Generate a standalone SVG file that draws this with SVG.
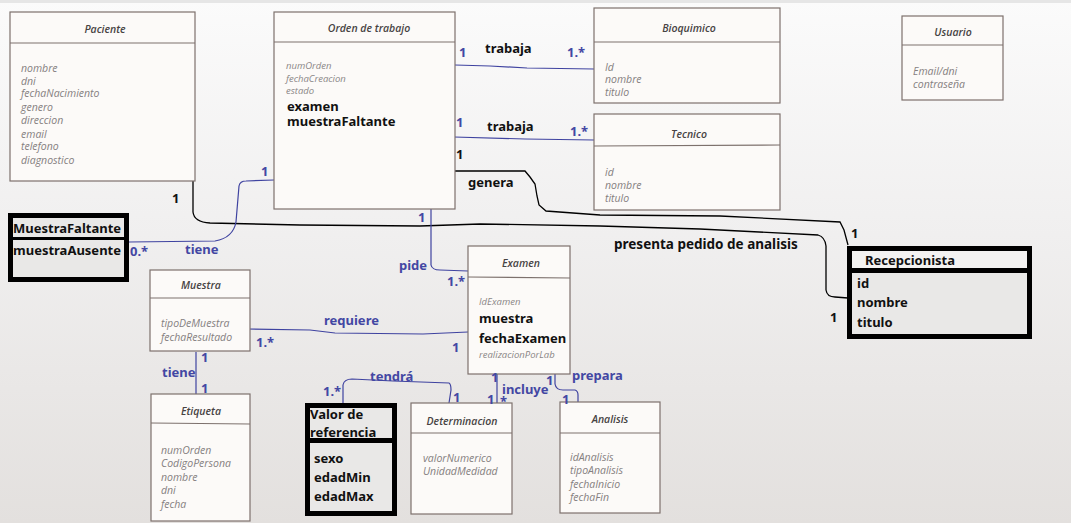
<svg xmlns="http://www.w3.org/2000/svg" width="1071" height="523" viewBox="0 0 1071 523">
<defs>
<linearGradient id="bg" x1="0" y1="0" x2="0" y2="1">
<stop offset="0" stop-color="#fbfbfb"/>
<stop offset="0.45" stop-color="#f0efef"/>
<stop offset="1" stop-color="#e3e0de"/>
</linearGradient>
<style>
.box{fill:#fcfaf8;stroke:#7d716d;stroke-width:1.2}
.sep{stroke:#7d716d;stroke-width:1.2;fill:none}
.ttl{font-family:"Open Sans","Noto Sans",sans-serif;font-style:italic;font-weight:600;font-size:10.5px;fill:#474343;text-anchor:middle}
.att{font-family:"Open Sans","Noto Sans",sans-serif;font-style:italic;font-size:10.5px;fill:#858080}
.att2{font-family:"Open Sans","Noto Sans",sans-serif;font-style:italic;font-size:9.5px;fill:#8a8686}
.bk{font-family:"Noto Sans","DejaVu Sans",sans-serif;font-weight:bold;font-size:13px;fill:#111}
.bl{font-family:"Noto Sans","DejaVu Sans",sans-serif;font-weight:bold;font-size:13px;fill:#4347a3}
.thick{fill:#e9e8e7;stroke:#000;stroke-width:5}
.cb{fill:none;stroke:#3f43a0;stroke-width:1.2}
.ck{fill:none;stroke:#000;stroke-width:1.3}
</style>
</defs>
<rect x="0" y="0" width="1071" height="523" fill="url(#bg)"/>
<rect x="0" y="0" width="1071" height="3" fill="#e6e6e6"/>

<g id="connectors">
<path class="ck" d="M193,181 L193,212 Q194,222 210,223 L300,225 L420,226 L480,224 L600,226 L700,229 L818,235 Q825,237 826,246 L826,290 Q827,297 835,297 L848,298"/>
<path class="ck" d="M452,171 L525,171 L530,177 L535,184 L537,196 L539,205 L546,211 L600,215 L720,216 L840,222 L844,230 L848,245"/>
<path class="cb" d="M455,65 L490,66 L527,68 L594,69"/>
<path class="cb" d="M454,137 L525,139 L594,140"/>
<path class="cb" d="M129,242 L215,241 Q233,238 236,222 L239,186 Q240,181 246,181 L274,180"/>
<path class="cb" d="M431,209 L431,265 Q432,270 440,270 L468,271"/>
<path class="cb" d="M247,329 L310,330 L335,333 L423,334 L468,332"/>
<path class="cb" d="M196,352 L196,394"/>
<path class="cb" d="M343,403 L343,385 Q344,379 352,379 L393,381 L449,383 Q451,384 451,390 L449,403"/>
<path class="cb" d="M497,374 L497,403"/>
<path class="cb" d="M555,374 L555,384 Q556,390 563,390 L575,390 Q578,391 578,395 L578,403"/>
</g>

<g id="paciente">
<rect class="box" x="10" y="12" width="185" height="169"/>
<line class="sep" x1="10" y1="43" x2="195" y2="43"/>
<text class="ttl" x="105" y="33">Paciente</text>
<text class="att" x="21" y="72">nombre</text>
<text class="att" x="21" y="85">dni</text>
<text class="att" x="21" y="97">fechaNacimiento</text>
<text class="att" x="21" y="111">genero</text>
<text class="att" x="21" y="124">direccion</text>
<text class="att" x="21" y="138">email</text>
<text class="att" x="21" y="150">telefono</text>
<text class="att" x="21" y="164">diagnostico</text>
</g>

<g id="orden">
<rect class="box" x="274" y="12" width="181" height="197"/>
<line class="sep" x1="274" y1="42" x2="455" y2="42"/>
<text class="ttl" x="369" y="32">Orden de trabajo</text>
<text class="att2" x="286" y="69">numOrden</text>
<text class="att2" x="286" y="82">fechaCreacion</text>
<text class="att2" x="286" y="94">estado</text>
<text class="bk" x="287" y="111">examen</text>
<text class="bk" x="287" y="126">muestraFaltante</text>
</g>

<g id="bioquimico">
<rect class="box" x="594" y="8" width="186" height="95"/>
<line class="sep" x1="594" y1="42" x2="780" y2="42"/>
<text class="ttl" x="689" y="32">Bioquimico</text>
<text class="att" x="605" y="71">Id</text>
<text class="att" x="605" y="83">nombre</text>
<text class="att" x="605" y="96">titulo</text>
</g>

<g id="tecnico">
<rect class="box" x="594" y="114" width="186" height="96"/>
<line class="sep" x1="594" y1="146" x2="780" y2="145"/>
<text class="ttl" x="689" y="138">Tecnico</text>
<text class="att" x="605" y="176">id</text>
<text class="att" x="605" y="189">nombre</text>
<text class="att" x="605" y="202">titulo</text>
</g>

<g id="usuario">
<rect class="box" x="902" y="16" width="101" height="84"/>
<line class="sep" x1="902" y1="45" x2="1003" y2="45"/>
<text class="ttl" x="953" y="36">Usuario</text>
<text class="att" x="913" y="75">Email/dni</text>
<text class="att" x="913" y="88">contraseña</text>
</g>

<g id="muestraFaltante">
<rect class="thick" x="10.5" y="215.5" width="116" height="64"/>
<line x1="12" y1="238.5" x2="126" y2="238.5" stroke="#000" stroke-width="3"/>
<text class="bk" x="13" y="233">MuestraFaltante</text>
<text class="bk" x="13" y="255">muestraAusente</text>
</g>

<g id="recepcionista">
<rect class="thick" x="849.5" y="248.5" width="180" height="88"/>
<rect x="852" y="251" width="175" height="17" fill="#f3f2f1"/>
<rect x="852" y="268" width="175" height="5" fill="#000"/>
<text class="bk" x="865" y="265">Recepcionista</text>
<text class="bk" x="857" y="288">id</text>
<text class="bk" x="857" y="307">nombre</text>
<text class="bk" x="857" y="327">titulo</text>
</g>

<g id="muestra">
<rect class="box" x="150" y="270" width="100" height="81"/>
<line class="sep" x1="150" y1="298" x2="250" y2="298"/>
<text class="ttl" x="201" y="289">Muestra</text>
<text class="att" x="161" y="327">tipoDeMuestra</text>
<text class="att" x="161" y="341">fechaResultado</text>
</g>

<g id="etiqueta">
<rect class="box" x="151" y="394" width="99" height="127"/>
<line class="sep" x1="151" y1="423" x2="250" y2="424"/>
<text class="ttl" x="201" y="415">Etiqueta</text>
<text class="att" x="161" y="454">numOrden</text>
<text class="att" x="161" y="467">CodigoPersona</text>
<text class="att" x="161" y="481">nombre</text>
<text class="att" x="161" y="494">dni</text>
<text class="att" x="161" y="508">fecha</text>
</g>

<g id="valorReferencia">
<rect class="thick" x="307.5" y="405.5" width="87" height="108"/>
<rect x="310" y="438" width="82" height="5" fill="#000"/>
<text class="bk" x="310" y="419">Valor de</text>
<text class="bk" x="310" y="437">referencia</text>
<text class="bk" x="314" y="463">sexo</text>
<text class="bk" x="314" y="482">edadMin</text>
<text class="bk" x="314" y="501">edadMax</text>
</g>

<g id="determinacion">
<rect class="box" x="411" y="403" width="101" height="111"/>
<line class="sep" x1="411" y1="433" x2="512" y2="433"/>
<text class="ttl" x="462" y="425">Determinacion</text>
<text class="att" x="423" y="462">valorNumerico</text>
<text class="att" x="423" y="475">UnidadMedidad</text>
</g>

<g id="analisis">
<rect class="box" x="560" y="402" width="100" height="111"/>
<line class="sep" x1="560" y1="433" x2="660" y2="433"/>
<text class="ttl" x="610" y="423">Analisis</text>
<text class="att" x="570" y="461">idAnalisis</text>
<text class="att" x="570" y="474">tipoAnalisis</text>
<text class="att" x="570" y="488">fechaInicio</text>
<text class="att" x="570" y="501">fechaFin</text>
</g>

<g id="examen">
<rect class="box" x="468" y="246" width="102" height="128"/>
<line class="sep" x1="468" y1="277" x2="570" y2="278"/>
<text class="ttl" x="521" y="267">Examen</text>
<text class="att2" x="479" y="305">IdExamen</text>
<text class="bk" x="479" y="323">muestra</text>
<text class="bk" x="479" y="343">fechaExamen</text>
<text class="att2" x="479" y="358">realizacionPorLab</text>
</g>

<g id="labels">
<text class="bl" x="459" y="57">1</text>
<text class="bk" x="485" y="53">trabaja</text>
<text class="bl" x="567" y="57">1.*</text>
<text class="bl" x="456" y="127">1</text>
<text class="bk" x="487" y="131">trabaja</text>
<text class="bl" x="570" y="136">1.*</text>
<text class="bk" x="456" y="159">1</text>
<text class="bk" x="468" y="187">genera</text>
<text class="bk" x="172" y="203">1</text>
<text class="bl" x="261" y="176">1</text>
<text class="bl" x="130" y="256">0.*</text>
<text class="bl" x="185" y="254">tiene</text>
<text class="bk" x="614" y="249" style="font-size:13.5px">presenta pedido de analisis</text>
<text class="bk" x="851" y="238">1</text>
<text class="bk" x="830" y="322">1</text>
<text class="bl" x="418" y="222">1</text>
<text class="bl" x="399" y="270">pide</text>
<text class="bl" x="447" y="286">1.*</text>
<text class="bl" x="324" y="325">requiere</text>
<text class="bl" x="256" y="347">1.*</text>
<text class="bl" x="452" y="352">1</text>
<text class="bl" x="201" y="362">1</text>
<text class="bl" x="162" y="377">tiene</text>
<text class="bl" x="201" y="393">1</text>
<text class="bl" x="370" y="381">tendrá</text>
<text class="bl" x="323" y="396">1.*</text>
<text class="bl" x="453" y="402">1</text>
<text class="bl" x="491" y="382">1</text>
<text class="bl" x="502" y="394">incluye</text>
<text class="bl" x="487" y="404">1</text>
<text class="bl" x="500" y="406">*</text>
<text class="bl" x="546" y="385">1</text>
<text class="bl" x="572" y="380">prepara</text>
<text class="bl" x="562" y="404">1</text>
</g>
</svg>
